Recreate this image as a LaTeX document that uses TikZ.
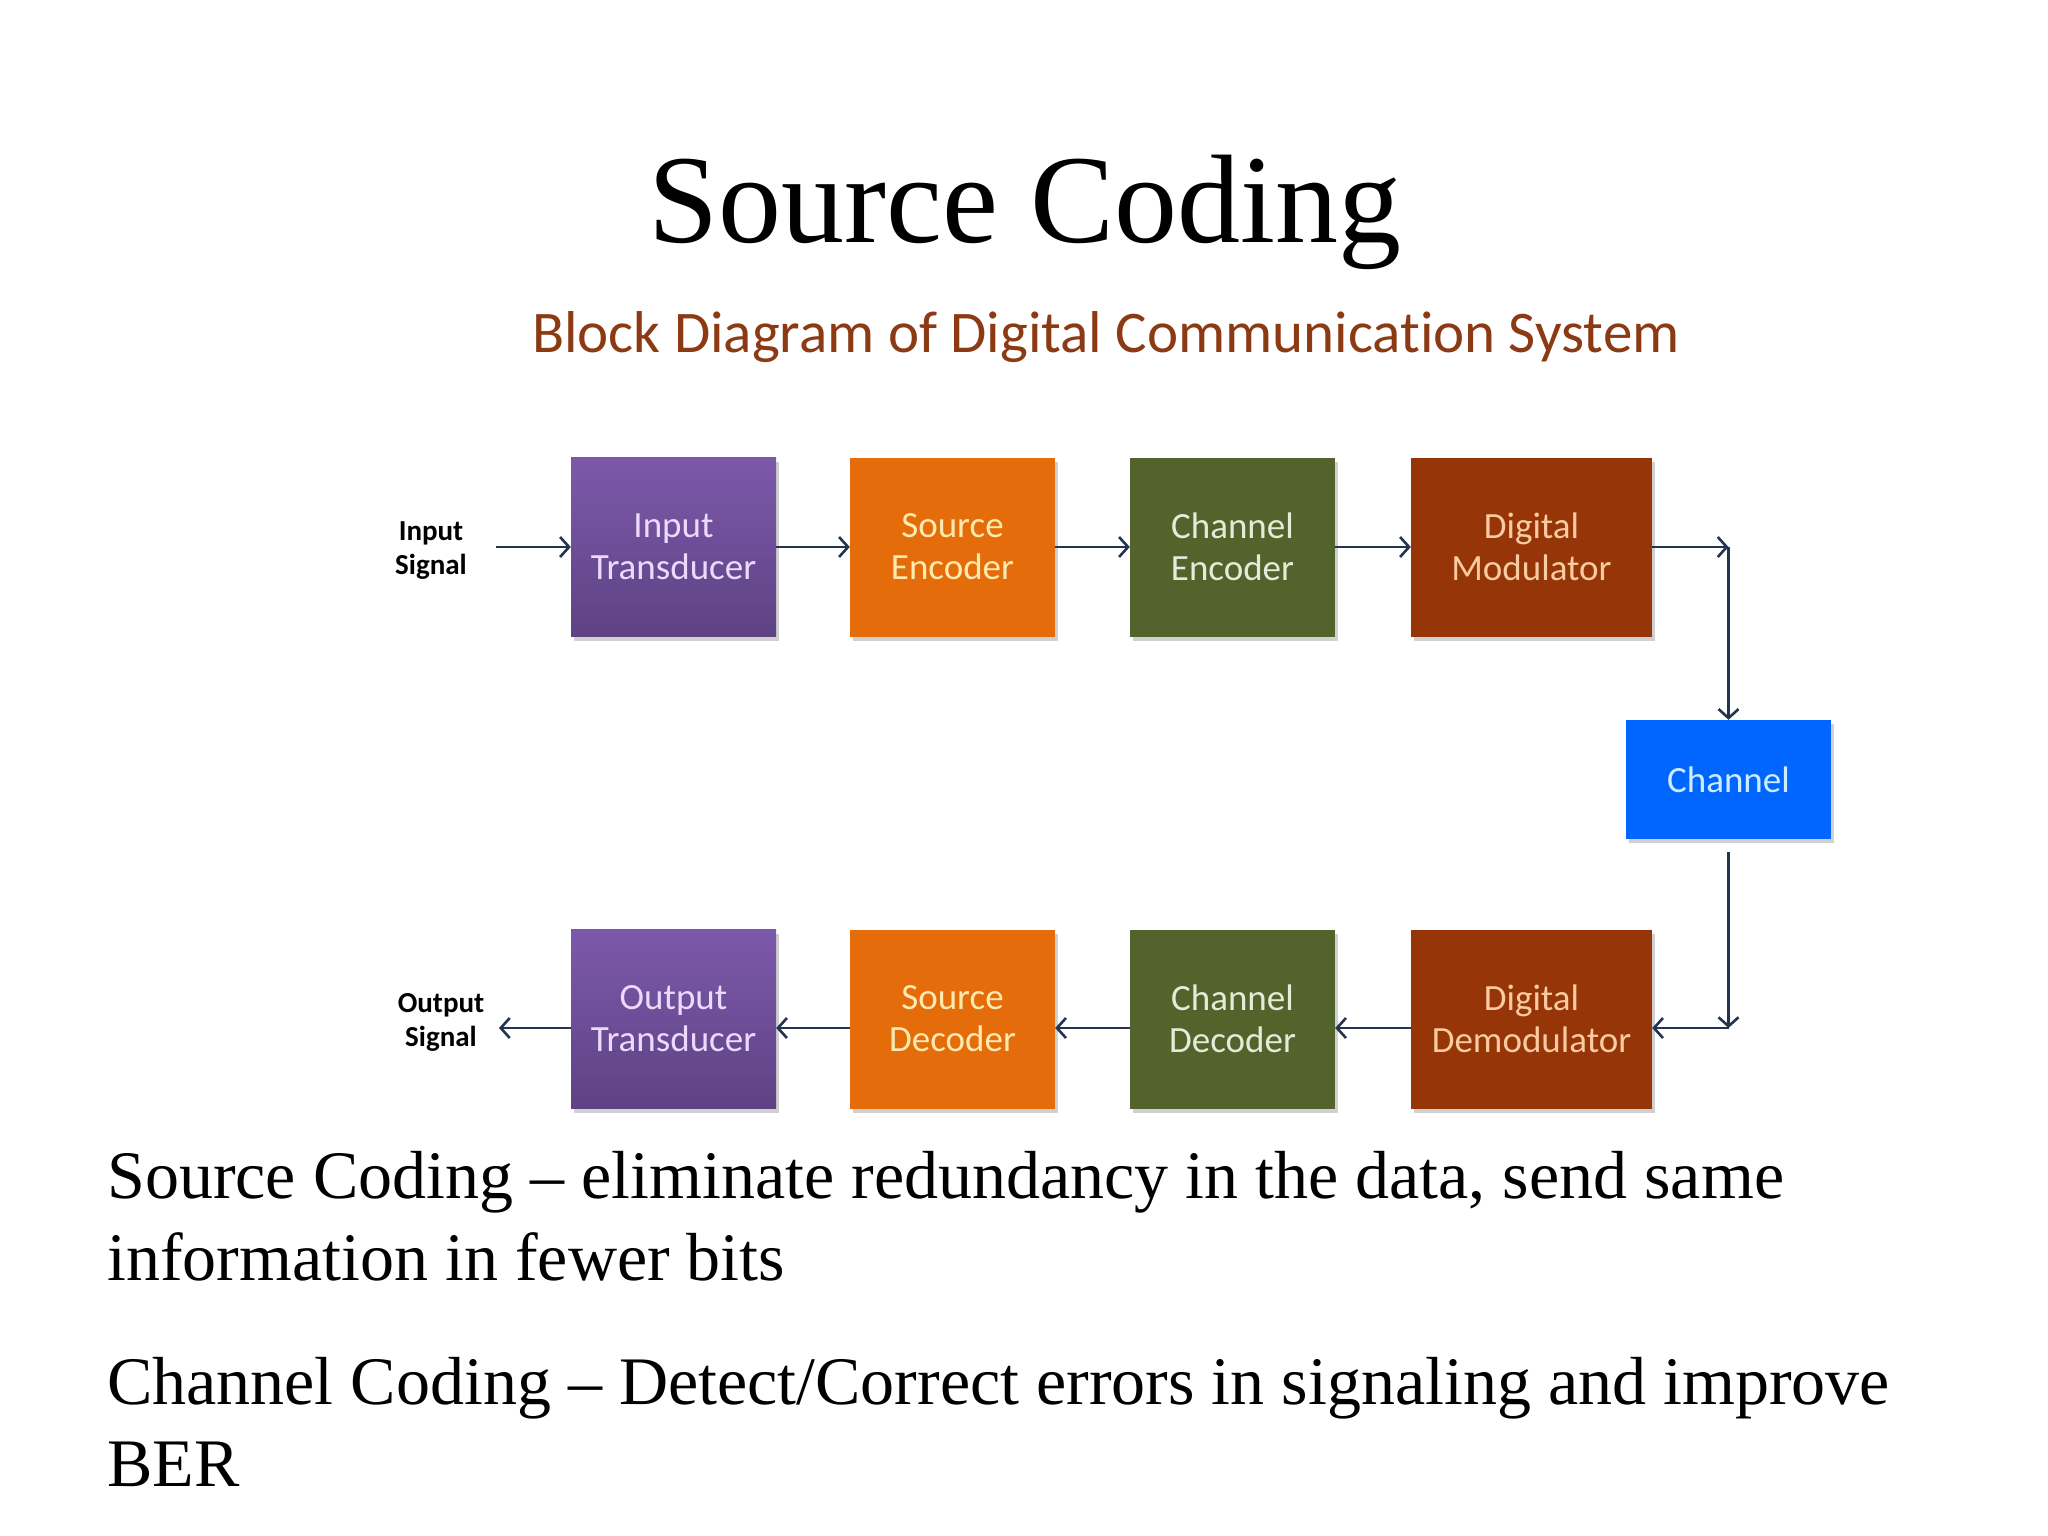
\documentclass[tikz,border=0pt]{standalone}
\usepackage{fontspec}
\setmainfont{Liberation Serif}
\newfontfamily\calib[Ligatures=NoCommon]{Carlito}
\usetikzlibrary{arrows.meta,shadows}
\definecolor{purpT}{RGB}{124,89,170}
\definecolor{purpB}{RGB}{94,66,132}
\definecolor{purpX}{RGB}{236,218,252}
\definecolor{orgF}{RGB}{228,108,10}
\definecolor{orgX}{RGB}{255,234,176}
\definecolor{grnF}{RGB}{82,100,44}
\definecolor{grnX}{RGB}{226,236,216}
\definecolor{redF}{RGB}{150,53,8}
\definecolor{redX}{RGB}{250,202,160}
\definecolor{bluF}{RGB}{0,102,255}
\definecolor{bluX}{RGB}{205,236,255}
\definecolor{arrC}{RGB}{36,52,78}
\definecolor{subC}{RGB}{140,58,20}
\begin{document}
\begin{tikzpicture}[x=1pt,y=-1pt,
  blk/.style={minimum width=205pt, minimum height=179pt, inner sep=0pt, align=center,
    font=\calib\fontsize{37}{42}\selectfont,
    drop shadow={shadow xshift=3pt,shadow yshift=-4pt,opacity=0.3,fill=black!60}},
  purp/.style={blk, top color=purpT, bottom color=purpB, text=purpX},
  org/.style={blk, fill=orgF, text=orgX},
  grn/.style={blk, fill=grnF, text=grnX},
  rd/.style={blk, fill=redF, text=redX, minimum width=241pt},
  arr/.style={draw=arrC, line width=2.6pt, -{Straight Barb[length=9pt,width=20pt,line width=2.6pt]}},
  sig/.style={font=\calib\bfseries\fontsize{29}{34}\selectfont, align=center, text=black},
  body/.style={anchor=base west, font=\fontsize{68}{80}\selectfont, inner sep=0pt}]
\useasboundingbox (0,0) rectangle (2048,1536);
\fill[white] (0,0) rectangle (2048,1536);

\node[anchor=base, font=\fontsize{126}{130}\selectfont] (title) at (1025,242) {Source Coding};
\node[anchor=base, text=subC, font=\calib\fontsize{59}{62}\selectfont] (sub) at (1106,352) {Block Diagram of Digital Communication System};

% row 1
\node[purp] (it) at (673.5,547) {Input\\Transducer};
\node[org]  (se) at (952.5,547) {Source\\Encoder};
\node[grn]  (ce) at (1232.5,547) {Channel\\Encoder};
\node[rd]   (dm) at (1531.5,547) {Digital\\Modulator};
% channel
\node[blk, fill=bluF, text=bluX, minimum height=119pt] (ch) at (1728.5,779.5) {Channel};
% row 2
\node[purp] (ot) at (673.5,1019) {Output\\Transducer};
\node[org]  (sd) at (952.5,1019) {Source\\Decoder};
\node[grn]  (cd) at (1232.5,1019) {Channel\\Decoder};
\node[rd]   (dd) at (1531.5,1019) {Digital\\Demodulator};

\node[sig] (insig) at (431,551) {Input\\Signal};
\node[sig] (outsig) at (441,1022) {Output\\Signal};
\coordinate (inS) at (496,547);
\coordinate (outS) at (499,1028);
\coordinate (c1) at (1728.5,547);
\coordinate (c2) at (1728.5,1028);
\coordinate (chS) at (1728.5,852);

\draw[arr] (inS) -- (it.west);
\draw[arr] (it.east) -- (se.west);
\draw[arr] (se.east) -- (ce.west);
\draw[arr] (ce.east) -- (dm.west);
\draw[arr] (dm.east) -- (c1);
\draw[arr] (c1) -- (ch.north);
\draw[arr] (chS) -- (c2);
\draw[arr] (c2) -- (c2 -| dd.east);
\draw[arr] ([yshift=-9pt]dd.west) -- ([yshift=-9pt]cd.east);
\draw[arr] ([yshift=-9pt]cd.west) -- ([yshift=-9pt]sd.east);
\draw[arr] ([yshift=-9pt]sd.west) -- ([yshift=-9pt]ot.east);
\draw[arr] ([yshift=-9pt]ot.west) -- (outS);

\node[body] (p1a) at (107,1198) {Source Coding – eliminate redundancy in the data, send same};
\node[body] (p1b) at (107,1280) {information in fewer bits};
\node[body] (p2a) at (107,1404) {Channel Coding – Detect/Correct errors in signaling and improve};
\node[body] (p2b) at (107,1486) {BER};
\end{tikzpicture}
\end{document}
